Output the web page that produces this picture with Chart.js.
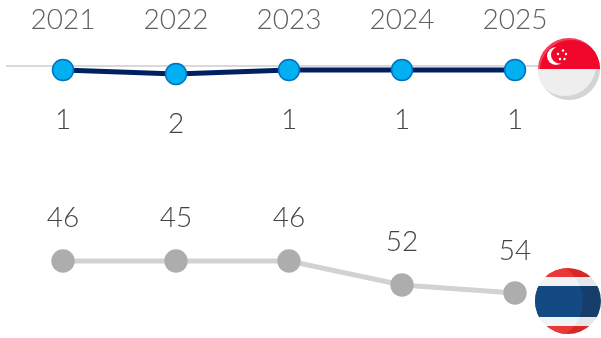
<!DOCTYPE html>
<html><head><meta charset="utf-8">
<style>html,body{margin:0;padding:0;background:#fff}#w{width:601px;height:338px;position:relative}</style>
<script src="https://cdn.jsdelivr.net/npm/chart.js@4"></script></head>
<body><div id="w"><canvas id="c" width="601" height="338"></canvas></div>
<script>
const years = ['2021','2022','2023','2024','2025'];
const singaporeRanks = [1,2,1,1,1];
const thailandRanks = [46,45,46,52,54];
// The reference draws Thailand's 2022 point level with 2021 and 2023, so heights have their own list.
const thailandHeights = [46,46,46,52,54];
const singaporeLabelOffsets = [50,50,50,50,50];
const thailandLabelOffsets = [-43,-43,-43,-43,-42];
const FONT = '300 28px Lato';

const baseline = {id:'baseline',beforeDatasetsDraw(ch){
  const g=ch.ctx, y=Math.round(ch.scales.y.getPixelForValue(0));
  g.save();g.strokeStyle='#d9d9d9';g.lineWidth=2;g.beginPath();g.moveTo(6,y);g.lineTo(540,y);g.stroke();g.restore();
}};
const valueLabels = {id:'valueLabels',afterDatasetsDraw(ch){
  const g=ch.ctx;g.save();g.font=FONT;g.fillStyle='#444';g.textAlign='center';g.textBaseline='middle';
  [[0,singaporeRanks,singaporeLabelOffsets],[1,thailandRanks,thailandLabelOffsets]].forEach(([d,vals,offs])=>{
    ch.getDatasetMeta(d).data.forEach((p,i)=>g.fillText(String(vals[i]),p.x,p.y+offs[i]));
  });
  g.restore();
}};
function disc(g,cx,cy,r,fn){g.save();g.beginPath();g.arc(cx,cy,r,0,Math.PI*2);g.clip();fn();g.restore();}
const flags = {id:'flags',afterDraw(ch){
  const g=ch.ctx;
  // Singapore
  let cx=569,cy=69,r=31;
  g.save();g.beginPath();g.rect(cx-r-1,cy-r-1,2*r+2,r+1);g.clip();
  disc(g,cx,cy,r,()=>{
    g.fillStyle='#f2405a';g.fillRect(cx-r,cy-r,2*r,r);
    g.fillStyle='#f0072b';g.beginPath();g.arc(cx+2,cy+2,r,0,Math.PI*2);g.fill();
    g.fillStyle='#fff';g.beginPath();g.arc(556,56,9,0,Math.PI*2);g.fill();
    g.fillStyle='#f0072b';g.beginPath();g.arc(559.5,55,8.5,0,Math.PI*2);g.fill();
    g.fillStyle='#fff';
    [[558,54],[563,50.5],[566,54],[564.5,59],[560,59]].forEach(([x,y])=>{g.beginPath();g.arc(x,y,1.2,0,Math.PI*2);g.fill();});
  });
  g.restore();
  g.save();g.beginPath();g.rect(cx-r-1,cy,2*r+2,r+1);g.clip();
  disc(g,cx,cy,r,()=>{
    g.fillStyle='#d4d4d5';g.fillRect(cx-r,cy,2*r,r);
    g.fillStyle='#eeeeef';g.beginPath();g.arc(cx-4,cy-4,r,0,Math.PI*2);g.fill();
  });
  g.restore();
  // Thailand
  cx=568;cy=301;r=33;
  disc(g,cx,cy,r,()=>{
    const bands=[[268,277,'#d62828','#ea3737'],[277,286,'#e6e7e8','#f2f3f4'],[286,317,'#173d6a','#144a83'],[317,326,'#e6e7e8','#f2f3f4'],[326,335,'#d62828','#ea3737']];
    bands.forEach(b=>{g.fillStyle=b[2];g.fillRect(cx-r,b[0],2*r,b[1]-b[0]);});
    g.beginPath();g.arc(543,cy,40,0,Math.PI*2);g.clip();
    bands.forEach(b=>{g.fillStyle=b[3];g.fillRect(cx-r,b[0],2*r,b[1]-b[0]);});
  });
}};
new Chart(document.getElementById('c'),{
  type:'line',
  data:{labels:years,datasets:[
    {data:singaporeRanks,yAxisID:'y',borderColor:'#002060',borderWidth:5,backgroundColor:'#00b0f0',
     pointBackgroundColor:'#00b0f0',pointBorderColor:'#0070c0',pointBorderWidth:1.5,pointRadius:10.5,tension:0,clip:false},
    {data:thailandHeights,yAxisID:'y2',borderColor:'#d2d2d2',borderWidth:5,backgroundColor:'#adadad',
     pointBackgroundColor:'#adadad',pointBorderColor:'#adadad',pointBorderWidth:0,pointRadius:11.7,tension:0,clip:false}
  ]},
  options:{
    responsive:false,animation:false,events:[],
    layout:{autoPadding:false,padding:{left:63,right:86,top:0,bottom:0}},
    plugins:{legend:{display:false},tooltip:{enabled:false}},
    scales:{
      x:{type:'category',position:'top',offset:false,afterFit(s){s.height=40;},
         grid:{display:false,drawTicks:false},border:{display:false},
         ticks:{color:'#5f5f5f',font:{family:'Lato',size:28,weight:'300'},padding:3,maxRotation:0,autoSkip:false}},
      // Plot area spans y=40..338, 298 px over 74.5 ranks = 4 px per rank
      y:{display:false,reverse:true,min:-6.5,max:68},
      y2:{display:false,reverse:true,min:-9.25,max:65.25}
    }
  },
  plugins:[baseline,valueLabels,flags]
});
</script></body></html>
